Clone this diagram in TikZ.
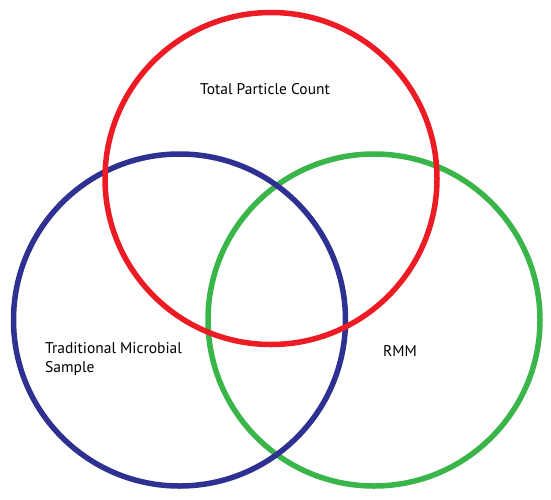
\documentclass[tikz,border=0pt]{standalone}
\usepackage{fontspec}
\setmainfont{PT Sans}
\usepackage{xcolor}
\usepackage{tikz}
\usetikzlibrary{positioning}
\definecolor{VennRed}{RGB}{237,28,36}
\definecolor{VennBlue}{RGB}{46,49,146}
\definecolor{VennGreen}{RGB}{57,181,74}
\tikzset{
  ring/.style={draw=#1,circle,line width=5.5pt,minimum size=332pt,inner sep=0pt},
  lbl/.style={font=\fontsize{15.5}{19}\selectfont,text=black,inner sep=0pt},
}

\begin{document}
\begin{tikzpicture}[x=1pt,y=-1pt]
    \useasboundingbox (0,0) rectangle (551,499);
    %% Circles (green, blue, then red on top)
    \node[ring=VennGreen] (rmm)    at (374,320)   {};
    \node[ring=VennBlue]  (micro)  at (179.5,320) {};
    \node[ring=VennRed]   (pcount) at (271,178.5) {};
    %% Labels
    \node[lbl] (pcountlbl) at (265,89)  {Total Particle Count};
    \node[lbl,align=left,anchor=west] (microlbl) at (45,359) {Traditional Microbial\\Sample};
    \node[lbl] (rmmlbl) at (400,351) {RMM};
  \end{tikzpicture}
\end{document}
